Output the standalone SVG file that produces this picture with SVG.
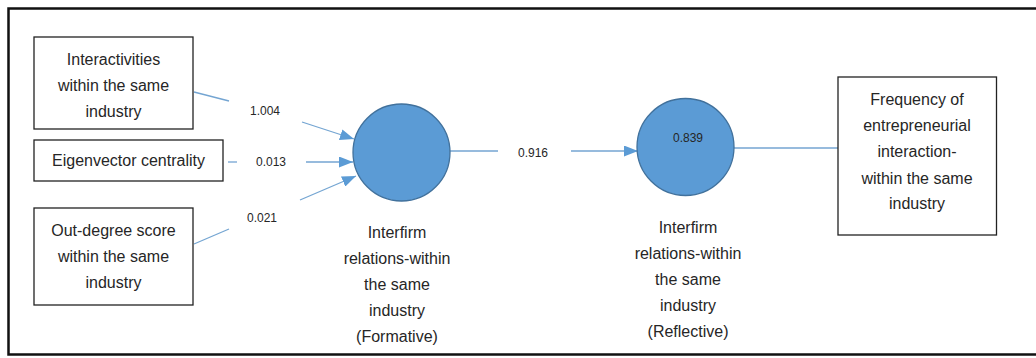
<svg xmlns="http://www.w3.org/2000/svg" width="1036" height="358" viewBox="0 0 1036 358">
  <style>
    .frame { fill: none; stroke: #111; stroke-width: 2.5; }
    .box { fill: #fff; stroke: #222; stroke-width: 1.3; }
    .node { fill: #5b9bd5; stroke: #41719c; stroke-width: 1.3; }
    .lbl { font-family: "Liberation Sans", Arial, sans-serif; font-size: 16px; fill: #262626; text-anchor: middle; }
    .num { font-family: "Liberation Sans", Arial, sans-serif; font-size: 12px; fill: #262626; text-anchor: middle; }
    .edge { fill: none; stroke: #74a5d2; stroke-width: 1.3; }
  </style>
  <defs>
    <marker id="arrow" viewBox="0 0 14 11" refX="14" refY="5.5" markerWidth="14" markerHeight="11" markerUnits="userSpaceOnUse" orient="auto">
      <path d="M0,0 L14,5.5 L0,11 Z" fill="#5b9bd5"/>
    </marker>
  </defs>

  <rect width="1036" height="358" fill="#fff"/>
  <!-- outer frame, open on the right -->
  <path class="frame" d="M1036,8.5 H8.5 V354.5 H1036"/>

  <!-- connectors -->
  <g id="connectors">
    <line class="edge" x1="194" y1="92" x2="229" y2="101"/>
    <line class="edge" x1="302" y1="122" x2="354" y2="139" marker-end="url(#arrow)"/>
    <line class="edge" x1="228" y1="162" x2="237" y2="162"/>
    <line class="edge" x1="306" y1="162" x2="353" y2="162" marker-end="url(#arrow)"/>
    <line class="edge" x1="194" y1="244" x2="229" y2="229"/>
    <line class="edge" x1="300" y1="200" x2="356" y2="176" marker-end="url(#arrow)"/>
    <line class="edge" x1="450" y1="151" x2="498" y2="151"/>
    <line class="edge" x1="571" y1="151" x2="638" y2="151" marker-end="url(#arrow)"/>
    <line class="edge" x1="734" y1="148" x2="838" y2="148"/>
    <text class="num" x="265" y="115">1.004</text>
    <text class="num" x="271" y="166">0.013</text>
    <text class="num" x="262" y="222">0.021</text>
    <text class="num" x="533" y="157">0.916</text>
  </g>

  <g id="interactivities">
    <rect class="box" x="34" y="37" width="159" height="92"/>
    <text class="lbl" x="113.5" y="65">Interactivities</text>
    <text class="lbl" x="113.5" y="91">within the same</text>
    <text class="lbl" x="113.5" y="117">industry</text>
  </g>

  <g id="eigenvector">
    <rect class="box" x="34" y="140" width="189" height="41"/>
    <text class="lbl" x="128.5" y="166">Eigenvector centrality</text>
  </g>

  <g id="outdegree">
    <rect class="box" x="34" y="208" width="159" height="97"/>
    <text class="lbl" x="113.5" y="236">Out-degree score</text>
    <text class="lbl" x="113.5" y="262">within the same</text>
    <text class="lbl" x="113.5" y="288">industry</text>
  </g>

  <g id="formative">
    <circle class="node" cx="401.5" cy="152.5" r="48.5"/>
    <text class="lbl" x="397" y="238">Interfirm</text>
    <text class="lbl" x="397" y="264">relations-within</text>
    <text class="lbl" x="397" y="290">the same</text>
    <text class="lbl" x="397" y="316">industry</text>
    <text class="lbl" x="397" y="342">(Formative)</text>
  </g>

  <g id="reflective">
    <circle class="node" cx="685.5" cy="147" r="48.5"/>
    <text class="num" x="688" y="142">0.839</text>
    <text class="lbl" x="688" y="233">Interfirm</text>
    <text class="lbl" x="688" y="259">relations-within</text>
    <text class="lbl" x="688" y="285">the same</text>
    <text class="lbl" x="688" y="311">industry</text>
    <text class="lbl" x="688" y="337">(Reflective)</text>
  </g>

  <g id="frequency">
    <rect class="box" x="838" y="77" width="158.5" height="158"/>
    <text class="lbl" x="917" y="105">Frequency of</text>
    <text class="lbl" x="917" y="131">entrepreneurial</text>
    <text class="lbl" x="917" y="157">interaction-</text>
    <text class="lbl" x="917" y="184">within the same</text>
    <text class="lbl" x="917" y="209">industry</text>
  </g>
</svg>
